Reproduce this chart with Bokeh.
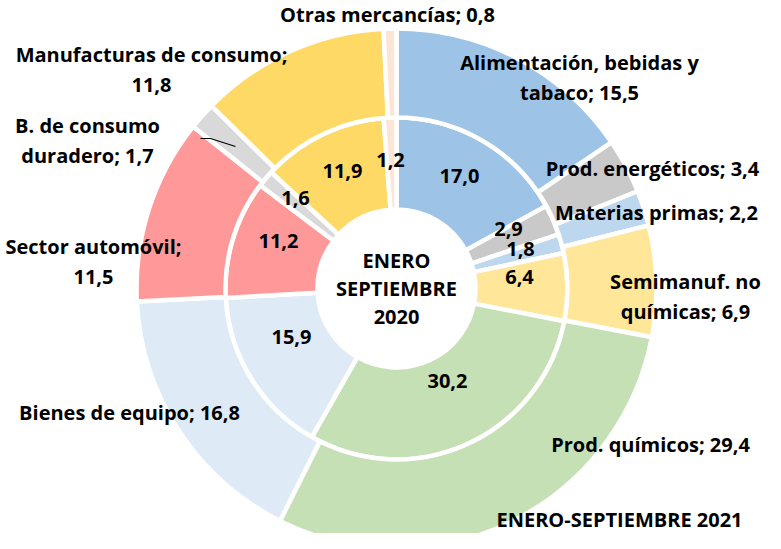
import math
from bokeh.plotting import figure
from bokeh.models import ColumnDataSource, Range1d
from bokeh.embed import file_html
from bokeh.resources import INLINE
from bokeh.core.properties import value

# ---- data ----
categories = ["Alimentación, bebidas y tabaco", "Prod. energéticos", "Materias primas",
              "Semimanuf. no químicas", "Prod. químicos", "Bienes de equipo",
              "Sector automóvil", "B. de consumo duradero", "Manufacturas de consumo",
              "Otras mercancías"]
v2020 = [17.0, 2.9, 1.8, 6.4, 30.2, 15.9, 11.2, 1.6, 11.9, 1.2]
v2021 = [15.5, 3.4, 2.2, 6.9, 29.4, 16.8, 11.5, 1.7, 11.8, 0.8]
colors = ["#9DC3E6", "#C9C9C9", "#BDD7EE", "#FFE699", "#C5E0B4",
          "#DEEBF7", "#FF9999", "#D9D9D9", "#FFD966", "#FBE5D6"]
center_label = ["ENERO", "SEPTIEMBRE", "2020"]
outer_title = "ENERO-SEPTIEMBRE 2021"

# label wrapping (display names, separator between name and value)
display_names = ["Alimentación, bebidas y\ntabaco", "Prod. energéticos", "Materias primas",
                 "Semimanuf. no\nquímicas", "Prod. químicos", "Bienes de equipo",
                 "Sector automóvil", "B. de consumo\nduradero", "Manufacturas de consumo",
                 "Otras mercancías"]
seps = ["; ", "; ", "; ", "; ", "; ", "; ", ";\n", "; ", ";\n", "; "]

# ---- layout (window pixel coordinates) ----
W, H = 765, 533
FONT = value("Open Sans")
FS = "20px"
LH = 30

outer_pos = [(587, 70), (660, 176), (664, 220), (693, 289), (658, 452),
             (137, 420), (101, 254), (95, 133), (159, 62), (395, 22)]
inner_pos = [(467, 183), (516, 236), (528, 256), (527, 284), (455, 388),
             (299, 344), (286, 248), (303, 205), (350, 178), (398, 167)]
title_pos = (627, 527)


def fmt(v):
    return f"{v:.1f}".replace(".", ",")


def px(x, y):
    return x - 8, H - (y - 8)


p = figure(width=W, height=H, x_range=Range1d(0, W), y_range=Range1d(0, H),
           output_backend="svg", toolbar_location=None, min_border=0,
           x_axis_location=None, y_axis_location=None)
p.grid.visible = False
p.outline_line_color = None
p.background_fill_color = "white"
p.border_fill_color = "white"

cx, cy = px(404, 296)


def angles(vals):
    tot = sum(vals)
    s, e = [], []
    c = 0.0
    for v in vals:
        s.append(math.pi / 2 - 2 * math.pi * c / tot)
        c += v
        e.append(math.pi / 2 - 2 * math.pi * c / tot)
    return s, e


s20, e20 = angles(v2020)
s21, e21 = angles(v2021)

src_in = ColumnDataSource(dict(start=s20, end=e20, color=colors))
src_out = ColumnDataSource(dict(start=s21, end=e21, color=colors))

p.annular_wedge(x=cx, y=cy, inner_radius=79, outer_radius=171,
                start_angle="start", end_angle="end", direction="clock",
                fill_color="color", line_color="white", line_width=4.5, source=src_in)
p.annular_wedge(x=cx, y=cy, inner_radius=171, outer_radius=260,
                start_angle="start", end_angle="end", direction="clock",
                fill_color="color", line_color="white", line_width=4.5, source=src_out)

tx, ty, tt = [], [], []
# outer labels
for name, sep, v, (x, y) in zip(display_names, seps, v2021, outer_pos):
    lines = (name + sep + fmt(v)).split("\n")
    for i, ln in enumerate(lines):
        X, Y = px(x, y + i * LH)
        tx.append(X); ty.append(Y); tt.append(ln)

# inner labels
for v, (x, y) in zip(v2020, inner_pos):
    X, Y = px(x, y)
    tx.append(X); ty.append(Y); tt.append(fmt(v))

# center labels
for i, ln in enumerate(center_label):
    X, Y = px(404, 268 + i * 28)
    tx.append(X); ty.append(Y); tt.append(ln)

X, Y = px(*title_pos)
tx.append(X); ty.append(Y); tt.append(outer_title)

p.text(x=tx, y=ty, text=tt, text_font=FONT, text_font_size=FS, text_font_style="bold",
       text_align="center", text_baseline="middle", text_color="black")

# leader line for B. de consumo duradero
lx, ly = zip(*[px(208, 146), px(218, 146), px(243, 154)])
p.line(x=list(lx), y=list(ly), line_color="black", line_width=1.2)

open("out.html", "w").write(file_html(p, INLINE))
